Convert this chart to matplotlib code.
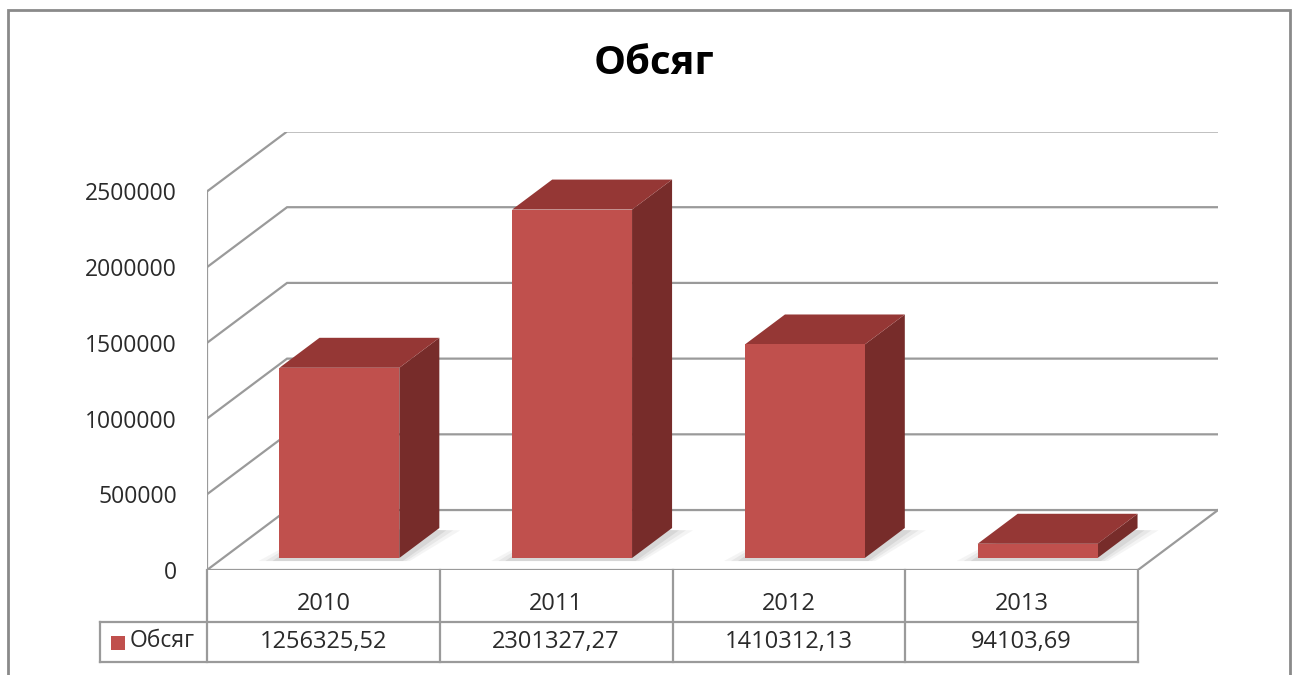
import matplotlib
matplotlib.use("Agg")
import matplotlib.pyplot as plt
from matplotlib.patches import Polygon, Rectangle

years = ["2010", "2011", "2012", "2013"]
volume = [1256325.52, 2301327.27, 1410312.13, 94103.69]
series_name = "Обсяг"
title = "Обсяг"
y_ticks = [0, 500000, 1000000, 1500000, 2000000, 2500000]

W, H = 1302, 675
FONT = ["Open Sans", "DejaVu Sans"]
GRID = "#9a9a9a"
TXT = "#2a2a2a"
FRONT, TOP, SIDE = "#C0504D", "#953735", "#772C2A"

# oblique depth of the floor, in data units (1 category wide, value high)
DX, DY = 0.344, 396000
D0, D1 = 0.2, 0.7          # bar depth span (fraction of floor depth)
BAR_W = 0.515
CAT_PX = 232.75            # pixels per category


def px_rect(x0, y0, x1, y1):
    return [x0 / W, 1 - y1 / H, (x1 - x0) / W, (y1 - y0) / H]


plt.rcParams["font.family"] = FONT
fig = plt.figure(figsize=(W / 100, H / 100), dpi=100)

# outer chart frame
fig.patches.append(Rectangle((8 / W, -0.05), 1282 / W, 1.05 - 10 / H,
                             transform=fig.transFigure, fill=False,
                             ec="#8a8a8a", lw=2))
fig.text(654 / W, 1 - 64 / H, title, ha="center", va="center",
         fontsize=29, fontweight="bold", color="black")

ax = fig.add_axes(px_rect(207, 131.5, 1218, 570))
n = len(years)
ax.set_xlim(0, n + DX)
ax.set_ylim(0, y_ticks[-1] + DY)
for s in ax.spines.values():
    s.set_visible(False)
ax.set_xticks([])
ax.set_yticks(y_ticks)
ax.set_yticklabels([str(t) for t in y_ticks], fontsize=16.5, color=TXT)
ax.tick_params(axis="y", length=0, pad=21.5)

# walls: gridlines running along left wall and back wall
for t in y_ticks:
    ax.plot([0, DX, n + DX], [t, t + DY, t + DY], color=GRID, lw=1.6,
            zorder=1, solid_joinstyle="miter")
ax.plot([0, 0], [0, y_ticks[-1]], color=GRID, lw=1.6, zorder=1)
ax.plot([0, n, n + DX], [0, 0, DY], color=GRID, lw=1.6, zorder=1)

# bars
for i, v in enumerate(volume):
    x0 = i + 0.5 - BAR_W / 2
    x1 = x0 + BAR_W
    fx0, fx1 = x0 + D0 * DX, x1 + D0 * DX
    bx0, bx1 = x0 + D1 * DX, x1 + D1 * DX
    fy0, by0 = D0 * DY, D1 * DY
    # soft shadow on the floor
    for k, a in [(0.09, 0.06), (0.06, 0.08), (0.03, 0.10)]:
        ax.add_patch(Polygon([(fx0 - k, fy0 - 20000), (fx1 + k * 0.5, fy0 - 20000),
                              (bx1 + k, by0 - 15000), (bx0, by0)],
                             closed=True, fc="#505050", ec="none", alpha=a,
                             zorder=2))
    ax.add_patch(Polygon([(fx1, fy0), (bx1, by0), (bx1, by0 + v), (fx1, fy0 + v)],
                         closed=True, fc=SIDE, ec="none", zorder=3))
    ax.add_patch(Polygon([(fx0, fy0 + v), (fx1, fy0 + v), (bx1, by0 + v), (bx0, by0 + v)],
                         closed=True, fc=TOP, ec="none", zorder=3))
    ax.add_patch(Rectangle((fx0, fy0), BAR_W, v, fc=FRONT, ec="none", zorder=4))

# data table under the chart
tx = fig.add_axes(px_rect(100, 570, 1138, 662))
left = -107 / CAT_PX
tx.set_xlim(left, n)
tx.set_ylim(662, 570)
tx.axis("off")
row_mid = 622
tx.plot([left, n], [row_mid, row_mid], color=GRID, lw=1.6, clip_on=False)
tx.plot([left, n], [662, 662], color=GRID, lw=1.6, clip_on=False)
tx.plot([left, left], [row_mid, 662], color=GRID, lw=1.6, clip_on=False)
for i in range(n + 1):
    tx.plot([i, i], [570, 662], color=GRID, lw=1.6, clip_on=False)
for i, (yr, v) in enumerate(zip(years, volume)):
    tx.text(i + 0.5, 604, yr, ha="center", va="center", fontsize=17, color=TXT)
    tx.text(i + 0.5, 642, f"{v:.2f}".replace(".", ","), ha="center", va="center",
            fontsize=17, color=TXT)
tx.add_patch(Rectangle((left + 11 / CAT_PX, 650), 14 / CAT_PX, -14, fc=FRONT, ec="none",
                       clip_on=False))
tx.text(left + 30 / CAT_PX, 641, series_name, ha="left", va="center",
        fontsize=16.5, color=TXT)

fig.savefig("out.png", dpi=100, facecolor="white")
